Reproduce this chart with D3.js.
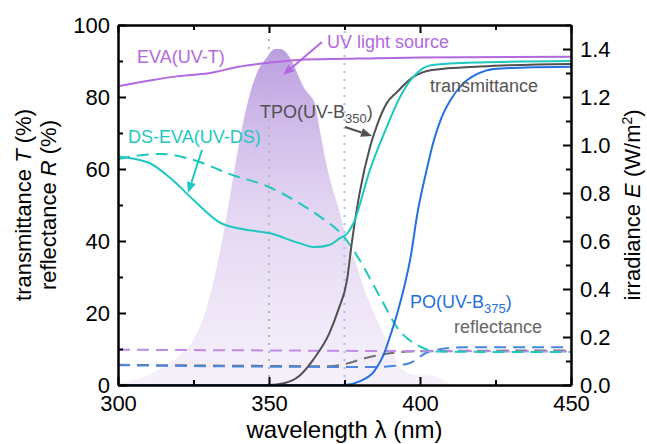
<!DOCTYPE html>
<html>
<head>
<meta charset="utf-8">
<script src="https://cdn.jsdelivr.net/npm/d3@7"></script>
<style>
  body { margin: 0; background: #fff; }
  text { font-family: "Liberation Sans", Arial, sans-serif; }
</style>
</head>
<body>
<script>
// UV light source irradiance (right axis)
let uv_wl = [300, 305, 310, 315, 320, 325, 328, 331, 334, 337, 340, 343, 346, 349, 352, 354, 356, 358, 360, 362, 364, 365, 367, 369, 371, 373, 375, 377, 379, 381, 384, 387, 390, 393, 396, 400, 404, 408, 410];
let uv_E = [0.01, 0.02, 0.04, 0.075, 0.12, 0.19, 0.27, 0.4, 0.57, 0.78, 1.0, 1.18, 1.3, 1.36, 1.4, 1.4, 1.38, 1.34, 1.28, 1.23, 1.2, 1.18, 1.05, 0.92, 0.82, 0.74, 0.64, 0.56, 0.5, 0.42, 0.32, 0.24, 0.16, 0.08, 0.05, 0.04, 0.04, 0.02, 0];

// transmittance (%)
let eva_T_wl = [300, 310, 320, 330, 340, 350, 360, 375, 400, 450];
let eva_T = [83, 84.5, 85.8, 86.6, 88.4, 89.5, 90.3, 90.6, 91, 91.2];
let ds_T_wl = [300, 310, 318, 325, 334, 342, 350, 360, 365, 370, 373.5, 375.8, 378, 383.4, 389, 393.4, 397.7, 404, 420, 450];
let ds_T = [63.5, 61.8, 57, 51.4, 45, 43.2, 42.2, 39.4, 38.3, 38.9, 40.8, 42, 45, 59.7, 71.7, 80, 85.5, 88.9, 89.6, 90];
let tpo_T_wl = [300, 350, 355, 360, 364.6, 370, 373, 375.8, 377.5, 380, 383.4, 386, 389, 392.4, 397.7, 404, 420, 450];
let tpo_T = [0, 0, 0.5, 2.5, 7, 14.4, 21, 29, 40, 53.3, 66, 72.7, 78.3, 81.4, 85.5, 87.5, 88.5, 89.2];
let po_T_wl = [300, 375, 380, 385, 388, 390, 392.5, 394.7, 397, 399, 402, 404.6, 407, 410, 414, 419, 424.5, 435, 450];
let po_T = [0, 0, 1, 4, 8.5, 13.3, 20, 27, 36, 47, 59, 68, 74, 79, 83.5, 86.4, 87.8, 88.2, 88.4];

// reflectance (%)
let eva_R_wl = [300, 350, 400, 450];
let eva_R = [9.8, 9.6, 9.4, 9.3];
let ds_R_wl = [300, 314, 323, 338, 350, 360, 367, 375, 380, 386.8, 393, 399, 405.6, 420, 450];
let ds_R = [62.8, 64.2, 63, 58.3, 55, 50.5, 46.7, 41, 34.7, 24.4, 15.3, 11.1, 9.3, 9.2, 9.2];
let tpo_R_wl = [300, 350, 370, 376, 382, 390, 400, 450];
let tpo_R = [5.6, 5.3, 5.2, 6, 7.5, 8.8, 9.4, 9.6];
let po_R_wl = [300, 350, 385, 390, 396.7, 402, 410, 415, 450];
let po_R = [5.5, 5.1, 5, 5.2, 6.1, 8.9, 10.3, 10.5, 10.5];

let x_ticks = [300, 350, 400, 450];
let x_minor = [325, 375, 425];
let y_ticks = [0, 20, 40, 60, 80, 100];
let y_minor = [10, 30, 50, 70, 90];
let e_ticks = [0, 0.2, 0.4, 0.6, 0.8, 1.0, 1.2, 1.4];
let e_minor = [0.1, 0.3, 0.5, 0.7, 0.9, 1.1, 1.3, 1.5];
let markers = [350, 375];

const purple = "#b269e0", cyan = "#1ec8bf", blue = "#2470e0", grey = "#505050";

let W = 647, H = 444;
let margin = { top: 25, right: 76, bottom: 59, left: 118 };

let svg = d3.select("body").append("svg").attr("width", W).attr("height", H);

let x = d3.scaleLinear().domain([300, 450]).range([margin.left, W - margin.right]);
let y = d3.scaleLinear().domain([0, 100]).range([H - margin.bottom, margin.top]);
let e = d3.scaleLinear().domain([0, 1.5]).range([H - margin.bottom, margin.top]);

let defs = svg.append("defs");
let grad = defs.append("linearGradient").attr("id", "uvgrad")
  .attr("gradientUnits", "userSpaceOnUse")
  .attr("x1", 0).attr("x2", 0).attr("y1", e(1.4)).attr("y2", e(0));
grad.append("stop").attr("offset", "0%").attr("stop-color", "#b08ddc").attr("stop-opacity", 0.85);
grad.append("stop").attr("offset", "50%").attr("stop-color", "#d2bdea").attr("stop-opacity", 0.6);
grad.append("stop").attr("offset", "100%").attr("stop-color", "#efe5f7").attr("stop-opacity", 0.55);

let uv = uv_wl.map((w, i) => [w, uv_E[i]]);
svg.append("path")
  .datum(uv)
  .attr("fill", "url(#uvgrad)")
  .attr("d", d3.area().x(d => x(d[0])).y0(e(0)).y1(d => e(d[1])).curve(d3.curveMonotoneX));

// dotted wavelength markers
svg.selectAll(".marker")
  .data(markers)
  .join("line")
    .attr("x1", d => x(d)).attr("x2", d => x(d))
    .attr("y1", y(0)).attr("y2", y(100))
    .attr("stroke", (d, i) => i == 0 ? "#b8b8b8" : "#9ec4f2")
    .attr("stroke-width", 2)
    .attr("stroke-dasharray", "2 6");

let line = d3.line().x(d => x(d[0])).y(d => y(d[1])).curve(d3.curveMonotoneX);
function draw(wl, vals, color, dashed) {
  svg.append("path")
    .datum(wl.map((w, i) => [w, vals[i]]))
    .attr("fill", "none")
    .attr("stroke", color)
    .attr("stroke-width", 2)
    .attr("stroke-dasharray", dashed ? "12 7" : null)
    .attr("d", line);
}

draw(tpo_R_wl, tpo_R, "#707070", true);
draw(po_R_wl, po_R, "#4a86e0", true);
draw(eva_R_wl, eva_R, "#c08ae6", true);
draw(ds_R_wl, ds_R, cyan, true);
draw(eva_T_wl, eva_T, purple, false);
draw(tpo_T_wl, tpo_T, grey, false);
draw(po_T_wl, po_T, blue, false);
draw(ds_T_wl, ds_T, cyan, false);

// axes, ticks inward
let fs = "22px";
svg.append("g").attr("transform", `translate(0,${y(0)})`)
  .call(d3.axisBottom(x).tickValues(x_ticks).tickSize(-8).tickSizeOuter(0).tickPadding(10).tickFormat(d3.format("d")));
svg.append("g").attr("transform", `translate(0,${y(0)})`)
  .call(d3.axisBottom(x).tickValues(x_minor).tickSize(-5).tickSizeOuter(0).tickFormat(""));
svg.append("g").attr("transform", `translate(0,${y(100)})`)
  .call(d3.axisTop(x).tickValues(x_ticks).tickSize(-8).tickSizeOuter(0).tickFormat(""));
svg.append("g").attr("transform", `translate(0,${y(100)})`)
  .call(d3.axisTop(x).tickValues(x_minor).tickSize(-5).tickSizeOuter(0).tickFormat(""));
svg.append("g").attr("transform", `translate(${x(300)},0)`)
  .call(d3.axisLeft(y).tickValues(y_ticks).tickSize(-8).tickSizeOuter(0).tickPadding(8));
svg.append("g").attr("transform", `translate(${x(300)},0)`)
  .call(d3.axisLeft(y).tickValues(y_minor).tickSize(-5).tickSizeOuter(0).tickFormat(""));
svg.append("g").attr("transform", `translate(${x(450)},0)`)
  .call(d3.axisRight(e).tickValues(e_ticks).tickSize(-8).tickSizeOuter(0).tickPadding(9).tickFormat(d3.format(".1f")));
svg.append("g").attr("transform", `translate(${x(450)},0)`)
  .call(d3.axisRight(e).tickValues(e_minor).tickSize(-5).tickSizeOuter(0).tickFormat(""));

svg.selectAll(".domain").attr("stroke", "#000").attr("stroke-width", 2);
svg.selectAll(".tick line").attr("stroke", "#000").attr("stroke-width", 2);
svg.selectAll(".tick text").attr("font-size", fs).attr("fill", "#000")
  .attr("font-family", "'Liberation Sans', Arial, sans-serif");

// axis titles
let tf = "'Liberation Sans', Arial, sans-serif";
let t1 = svg.append("text").attr("transform", `translate(31,${y(50)}) rotate(-90)`)
  .attr("text-anchor", "middle").attr("font-size", "22px").attr("font-family", tf);
t1.append("tspan").text("transmittance ");
t1.append("tspan").attr("font-style", "italic").text("T");
t1.append("tspan").text(" (%)");
let t2 = svg.append("text").attr("transform", `translate(56,${y(50)}) rotate(-90)`)
  .attr("text-anchor", "middle").attr("font-size", "22px").attr("font-family", tf);
t2.append("tspan").text("reflectance ");
t2.append("tspan").attr("font-style", "italic").text("R");
t2.append("tspan").text(" (%)");
let t3 = svg.append("text").attr("transform", `translate(640,${y(50)}) rotate(-90)`)
  .attr("text-anchor", "middle").attr("font-size", "22px").attr("font-family", tf);
t3.append("tspan").text("irradiance ");
t3.append("tspan").attr("font-style", "italic").text("E");
t3.append("tspan").text(" (W/m");
t3.append("tspan").attr("font-size", "14px").attr("dy", "-8").text("2");
t3.append("tspan").attr("dy", "8").text(")");
svg.append("text").attr("x", (x(300) + x(450)) / 2).attr("y", 438)
  .attr("text-anchor", "middle").attr("font-size", "24px").attr("font-family", tf)
  .text("wavelength λ (nm)");

// annotations
function label(tx, ty, color, parts) {
  let t = svg.append("text").attr("x", tx).attr("y", ty).attr("fill", color)
    .attr("font-size", "18px").attr("font-family", tf);
  let shift = 0;
  parts.forEach(p => {
    if (typeof p === "object") {
      t.append("tspan").attr("font-size", "13px").attr("dy", 5 - shift).text(p.sub);
      shift = 5;
    } else {
      t.append("tspan").attr("dy", -shift).text(p);
      shift = 0;
    }
  });
}
label(137, 63, purple, ["EVA(UV-T)"]);
label(327, 48, purple, ["UV light source"]);
label(128, 143, cyan, ["DS-EVA(UV-DS)"]);
label(260, 118, grey, ["TPO(UV-B", { sub: "350" }, ")"]);
label(430, 92, "#555", ["transmittance"]);
label(410, 308, blue, ["PO(UV-B", { sub: "375" }, ")"]);
label(454, 333, "#666", ["reflectance"]);

function arrow(x1, y1, x2, y2, color) {
  let a = Math.atan2(y2 - y1, x2 - x1);
  let L = 11, w = 4.5;
  let bx = x2 - L * Math.cos(a), by = y2 - L * Math.sin(a);
  svg.append("line").attr("x1", x1).attr("y1", y1).attr("x2", bx).attr("y2", by)
    .attr("stroke", color).attr("stroke-width", 2);
  svg.append("path")
    .attr("d", `M${x2},${y2}L${bx + w * Math.sin(a)},${by - w * Math.cos(a)}L${bx - w * Math.sin(a)},${by + w * Math.cos(a)}Z`)
    .attr("fill", color);
}
arrow(322, 42, 283, 75, purple);
arrow(202, 150, 188, 193, cyan);
arrow(345, 127, 372, 136, grey);
</script>
</body>
</html>
